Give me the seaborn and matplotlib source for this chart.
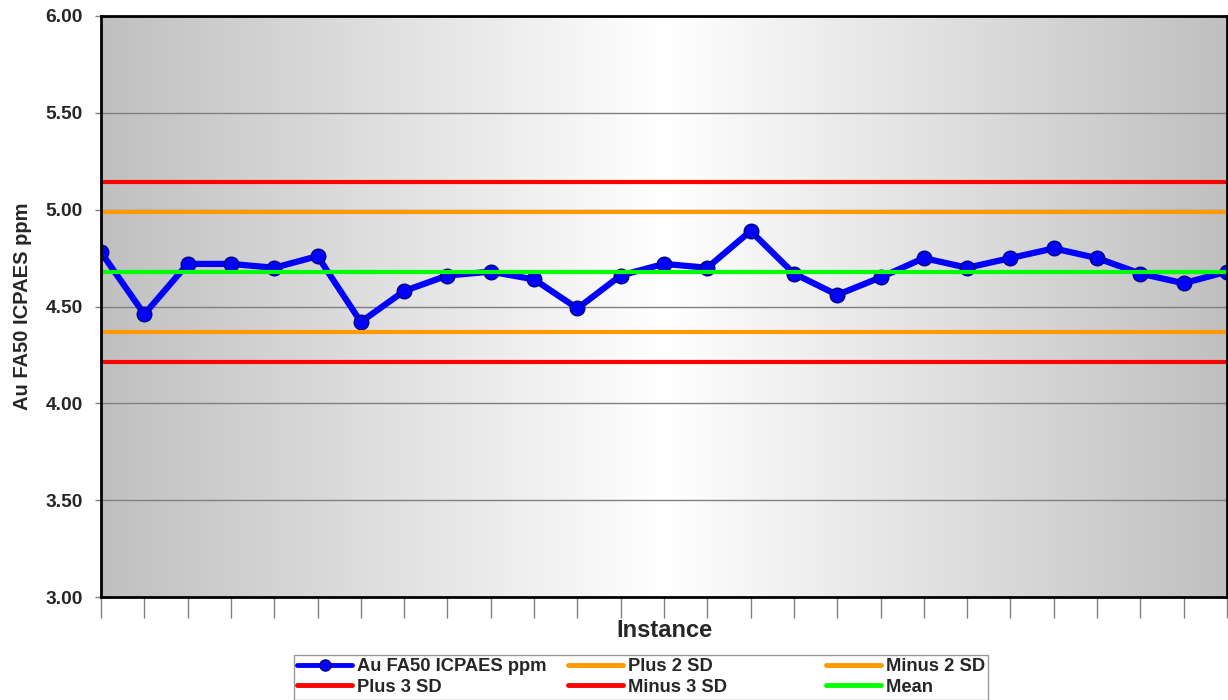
import numpy as np
import pandas as pd
import matplotlib
matplotlib.use("Agg")
import matplotlib.pyplot as plt
from matplotlib.colors import LinearSegmentedColormap
from matplotlib.lines import Line2D
import seaborn as sns

# Quality-control run for Au FA50 ICPAES (ppm)
instance = list(range(27))
au_ppm = [4.78, 4.46, 4.72, 4.72, 4.70, 4.76, 4.42, 4.58, 4.66, 4.68,
          4.64, 4.49, 4.66, 4.72, 4.70, 4.89, 4.67, 4.56, 4.65, 4.75,
          4.70, 4.75, 4.80, 4.75, 4.67, 4.62, 4.68]

mean_level = 4.68
plus_2sd = 4.99
minus_2sd = 4.37
plus_3sd = 5.145
minus_3sd = 4.215

y_ticks = [3.00, 3.50, 4.00, 4.50, 5.00, 5.50, 6.00]

sns.set_theme(style="white")
plt.rcParams["font.family"] = ["Liberation Sans", "DejaVu Sans"]
plt.rcParams["font.weight"] = "bold"

fig = plt.figure(figsize=(12.28, 7.00), dpi=100)
ax = fig.add_axes([101 / 1228, 103 / 700, 1126 / 1228, 581 / 700])

# horizontal grey-white-grey gradient fill behind the plot
grad = LinearSegmentedColormap.from_list("bg", ["#c0c0c0", "#ffffff", "#c0c0c0"])
ax.imshow(np.linspace(0, 1, 512).reshape(1, -1), cmap=grad, aspect="auto",
          extent=[0, 1, 0, 1], transform=ax.transAxes, zorder=0,
          interpolation="bilinear")

df = pd.DataFrame({"Instance": instance, "Au FA50 ICPAES ppm": au_ppm})
sns.lineplot(data=df, x="Instance", y="Au FA50 ICPAES ppm", ax=ax,
             color="#0000ff", linewidth=4.5, marker="o", markersize=10.5,
             markerfacecolor="#0000ff", markeredgecolor="#000080",
             markeredgewidth=1.0, zorder=3)

limit_styles = [
    (plus_2sd, "#ff9900"), (minus_2sd, "#ff9900"),
    (plus_3sd, "#ff0000"), (minus_3sd, "#ff0000"),
    (mean_level, "#00ff00"),
]
for level, col in limit_styles:
    ax.axhline(level, color=col, linewidth=3.0, zorder=4)

ax.set_xlim(0, 26)
ax.set_ylim(3.0, 6.0)
ax.set_yticks(y_ticks)
ax.set_yticklabels([f"{v:.2f}" for v in y_ticks])
ax.set_xticks(instance)
ax.set_xticklabels([])

ax.grid(axis="y", color="#808080", linewidth=1.0, zorder=1)
ax.grid(axis="x", visible=False)
ax.set_axisbelow(False)
for gl in ax.get_ygridlines():
    gl.set_zorder(1)

ax.tick_params(axis="y", which="major", direction="out", length=4, width=1,
               color="#808080", pad=9, labelsize=13.8, left=True)
ax.tick_params(axis="x", which="major", direction="out", length=15, width=1,
               color="#808080", bottom=True)
for lab in ax.get_yticklabels():
    lab.set_fontweight("bold")

for side in ["left", "right", "top", "bottom"]:
    ax.spines[side].set_color("black")
    ax.spines[side].set_linewidth(2.0)
    ax.spines[side].set_zorder(5)

ax.set_xlabel("Instance", fontsize=17, fontweight="bold", labelpad=-3)
ax.set_ylabel("Au FA50 ICPAES ppm", fontsize=14.5, fontweight="bold", labelpad=10)

# legend, filled column by column so rows read: series / +2SD / -2SD, +3SD / -3SD / mean
h_series = Line2D([], [], color="#0000ff", linewidth=3.5, marker="o", markersize=8,
                  markerfacecolor="#0000ff", markeredgecolor="#000080")
def lim_handle(c):
    return Line2D([], [], color=c, linewidth=3.5)
handles = [h_series, lim_handle("#ff0000"), lim_handle("#ff9900"),
           lim_handle("#ff0000"), lim_handle("#ff9900"), lim_handle("#00ff00")]
mid_pad = " " * 15
labels = ["Au FA50 ICPAES ppm", "Plus 3 SD", "Plus 2 SD" + mid_pad,
          "Minus 3 SD" + mid_pad, "Minus 2 SD", "Mean   "]
leg = fig.legend(handles, labels, ncol=3, loc="center",
                 bbox_to_anchor=(641 / 1228, 1 - 677 / 700),
                 frameon=True, fancybox=False, edgecolor="#808080",
                 prop={"weight": "bold", "size": 13.2},
                 handlelength=3.0, handletextpad=0.25, columnspacing=1.2,
                 labelspacing=0.2, borderpad=0.2)
leg.get_frame().set_linewidth(1.0)

fig.savefig("out.png", dpi=100)
